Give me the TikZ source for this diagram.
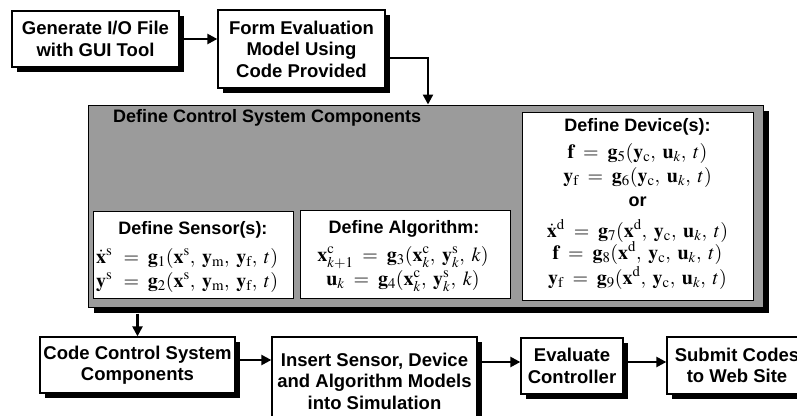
\documentclass[tikz,border=0pt]{standalone}
\usepackage{mathptmx}
\usepackage[no-math]{fontspec}
\setmainfont{Liberation Sans}
\usetikzlibrary{arrows.meta,shadows}
\definecolor{panelgray}{RGB}{155,155,155}
\newcommand{\bv}[1]{\mathbf{#1}}
\newcommand{\rmsub}[1]{\mathrm{#1}}
\newcommand{\cm}{,\;}
\begin{document}
\begin{tikzpicture}[x=1pt,y=-1pt,
  shade/.style={drop shadow={shadow xshift=5pt,shadow yshift=-5pt,fill=black,opacity=1}},
  flowbox/.style={draw=black,line width=1.3pt,fill=white,shade,align=center,inner sep=0pt,
    font=\bfseries\fontsize{18.5}{21.5}\selectfont},
  panel/.style={draw=black,line width=1pt,fill=panelgray,
    drop shadow={shadow xshift=6pt,shadow yshift=-6pt,fill=black,opacity=1}},
  eqbox/.style={draw=black,line width=1pt,fill=white,inner sep=0pt},
  eqtitle/.style={inner sep=0pt,font=\bfseries\fontsize{18}{21.5}\selectfont},
  eq/.style={inner sep=0pt,font=\fontsize{20}{24}\selectfont},
  arr/.style={line width=2.3pt,-{Triangle[length=10pt,width=10pt]}}
]
\useasboundingbox (0,0) rectangle (797,415);

% top row
\node[flowbox,minimum width=167pt,minimum height=56pt] (gen) at (95.5,39) {Generate I/O File\\with GUI Tool};
\node[flowbox,minimum width=167pt,minimum height=78pt] (form) at (301.5,49) {Form Evaluation\\Model Using\\Code Provided};

% panel
\node[panel,minimum width=675pt,minimum height=202pt] (dcs) at (425.5,206) {};
\node[anchor=base west,eqtitle] (dcstitle) at (113,122) {Define Control System Components};

% sensor box
\node[eqbox,minimum width=200pt,minimum height=87pt] (sen) at (193,254.5) {};
\node[eqtitle,anchor=base] (senT) at (193,234) {Define Sensor(s):};
\node[eq,anchor=base west] (senA) at (96,263)
  {$\dot{\bv{x}}^{\rmsub{s}}\, \;=\; \bv{g}_1(\bv{x}^{\rmsub{s}}\cm \bv{y}_{\rmsub{m}}\cm \bv{y}_{\rmsub{f}}\cm t)$};
\node[eq,anchor=base west] (senB) at (96,287)
  {$\bv{y}^{\rmsub{s}}\, \;=\; \bv{g}_2(\bv{x}^{\rmsub{s}}\cm \bv{y}_{\rmsub{m}}\cm \bv{y}_{\rmsub{f}}\cm t)$};

% algorithm box
\node[eqbox,minimum width=210pt,minimum height=88pt] (alg) at (405,254) {};
\node[eqtitle,anchor=base] (algT) at (404,233) {Define Algorithm:};
\node[eq,anchor=base] (algA) at (403,261)
  {$\bv{x}^{\rmsub{c}}_{k+1} \;=\; \bv{g}_3(\bv{x}^{\rmsub{c}}_k\cm \bv{y}^{\rmsub{s}}_k\cm k)$};
\node[eq,anchor=base] (algB) at (403,285)
  {$\bv{u}_k \;=\; \bv{g}_4(\bv{x}^{\rmsub{c}}_k\cm \bv{y}^{\rmsub{s}}_k\cm k)$};

% device box
\node[eqbox,minimum width=231pt,minimum height=188pt] (dev) at (637.5,206) {};
\node[eqtitle,anchor=base] (devT) at (637.5,131) {Define Device(s):};
\node[eq,anchor=base] (devA) at (637.5,158)
  {$\bv{f} \;=\; \bv{g}_5(\bv{y}_{\rmsub{c}}\cm \bv{u}_k\cm t)$};
\node[eq,anchor=base] (devB) at (637.5,182)
  {$\bv{y}_{\rmsub{f}} \;=\; \bv{g}_6(\bv{y}_{\rmsub{c}}\cm \bv{u}_k\cm t)$};
\node[eqtitle,anchor=base] (devOr) at (637.5,206) {or};
\node[eq,anchor=base] (devC) at (637.5,237)
  {$\dot{\bv{x}}^{\rmsub{d}} \;=\; \bv{g}_7(\bv{x}^{\rmsub{d}}\cm \bv{y}_{\rmsub{c}}\cm \bv{u}_k\cm t)$};
\node[eq,anchor=base] (devD) at (637.5,259)
  {$\bv{f} \;=\; \bv{g}_8(\bv{x}^{\rmsub{d}}\cm \bv{y}_{\rmsub{c}}\cm \bv{u}_k\cm t)$};
\node[eq,anchor=base] (devE) at (637.5,284)
  {$\bv{y}_{\rmsub{f}} \;=\; \bv{g}_9(\bv{x}^{\rmsub{d}}\cm \bv{y}_{\rmsub{c}}\cm \bv{u}_k\cm t)$};

% bottom row
\node[flowbox,minimum width=195pt,minimum height=56pt] (code) at (137.5,365) {Code Control System\\Components};
\node[flowbox,minimum width=205pt,minimum height=88pt] (ins) at (374.5,381) {Insert Sensor, Device\\and Algorithm Models\\into Simulation};
\node[flowbox,minimum width=102pt,minimum height=56pt] (eval) at (572,366) {Evaluate\\Controller};
\node[flowbox,minimum width=140pt,minimum height=57pt] (sub) at (737,365.5) {Submit Codes\\to Web Site};

% connectors
\draw[arr] (gen.east) -- (gen.east -| form.west);
\draw[arr] ([yshift=-9pt]form.east) -| ([xshift=2.5pt]dcs.north);
\draw[arr] ([yshift=-6pt]dcs.south -| code.north) -- (code.north);
\draw[arr] ([yshift=5pt]code.east) -- ([yshift=5pt]code.east -| ins.west);
\draw[arr] ([yshift=4pt]eval.west -| ins.east) -- ([yshift=4pt]eval.west);
\draw[arr] ([yshift=4pt]eval.east) -- ([yshift=4pt]eval.east -| sub.west);
\end{tikzpicture}
\end{document}
